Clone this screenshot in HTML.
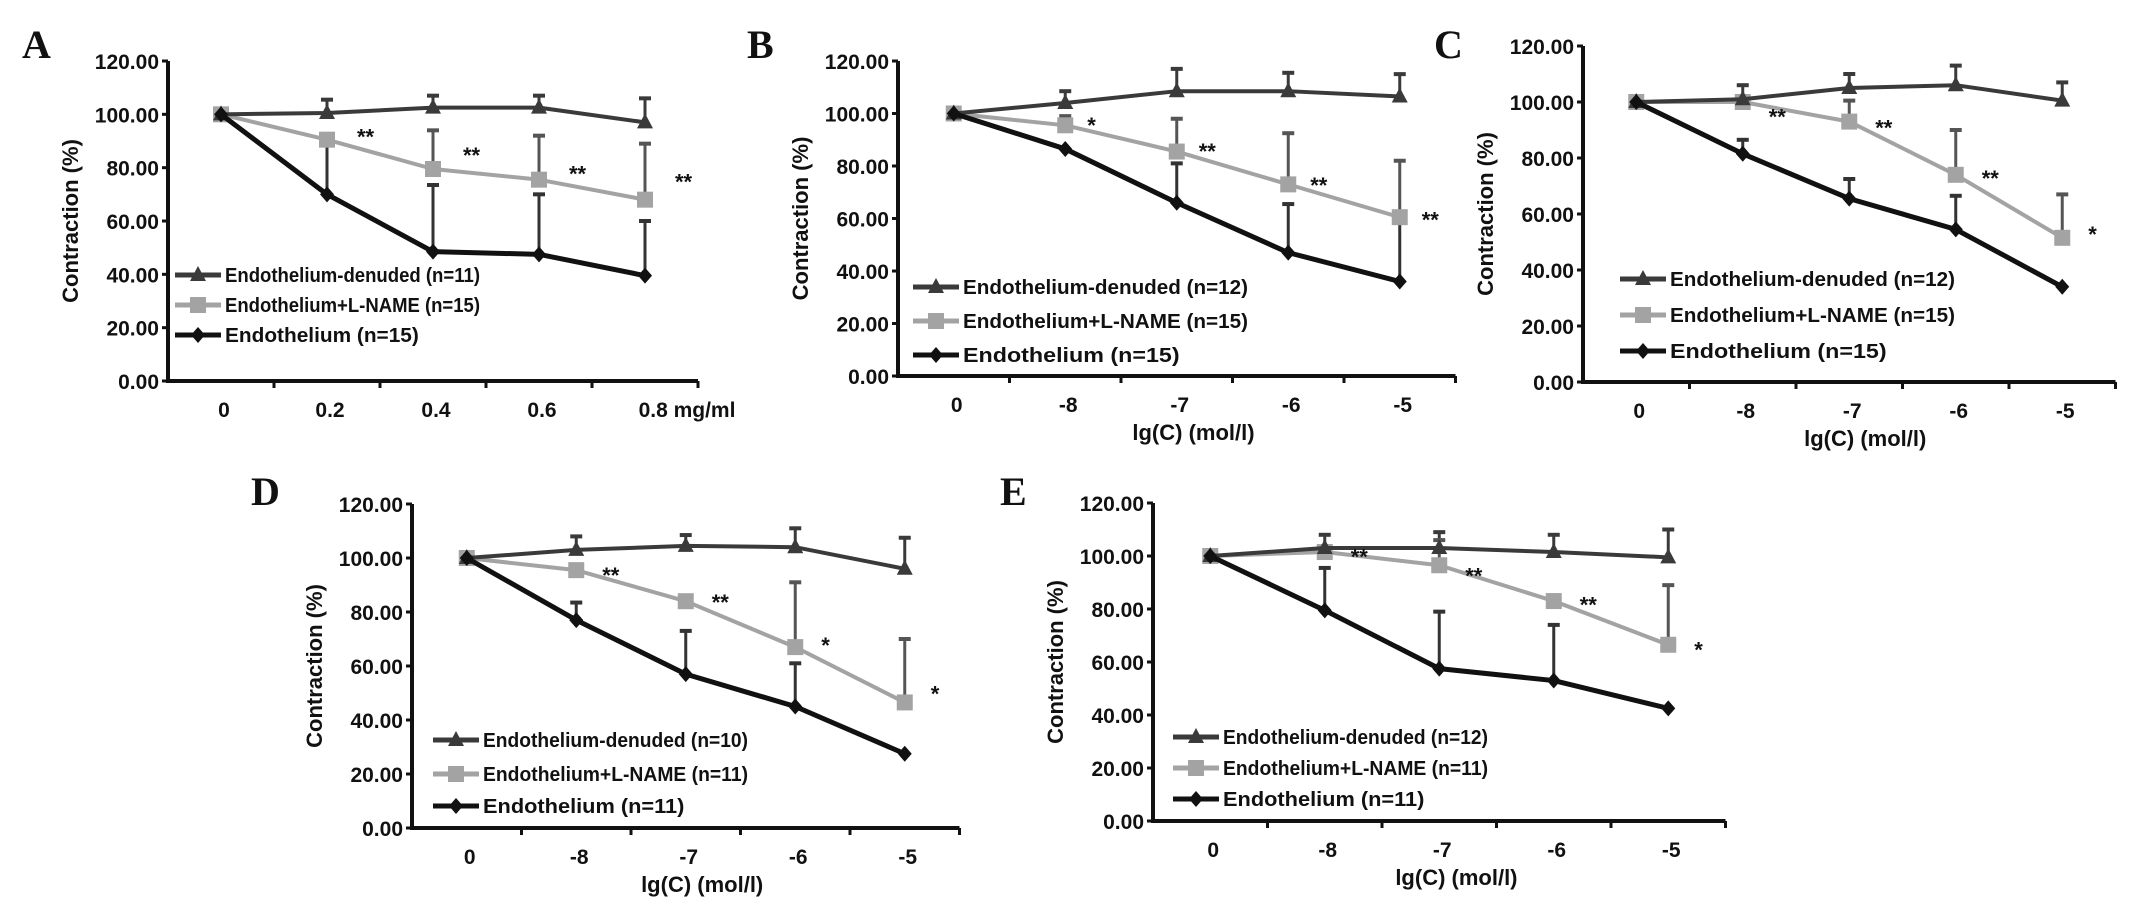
<!DOCTYPE html>
<html><head><meta charset="utf-8"><style>
html,body{margin:0;padding:0;background:#fff;}
svg{display:block;}
text{font-family:"Liberation Sans",Arial,sans-serif;font-weight:bold;fill:#111;}
.letter{font-family:"Liberation Serif","Times New Roman",serif;font-size:40px;}
</style></head><body>
<svg id="fig" width="2143" height="911" viewBox="0 0 2143 911" xmlns="http://www.w3.org/2000/svg"></svg>
<script>
// ---- data ----
const catsA = ["0","0.2","0.4","0.6","0.8 mg/ml"];
const catsLog = ["0","-8","-7","-6","-5"];
const yTicks = ["0.00","20.00","40.00","60.00","80.00","100.00","120.00"];

const denudedA = [100,100.5,102.5,102.5,97];
const denudedErrA = [0,105.5,107,107,106];
const lnameA = [100,90.5,79.5,75.5,68];
const lnameErrA = [0,0,94,92,89];
const endoA = [100,70,48.5,47.5,39.5];
const endoErrA = [0,90,73.5,70,60];

const denudedB = [100,104,108.5,108.5,106.5];
const denudedErrB = [0,108.5,117,115.5,115];
const lnameB = [100,95.5,85.5,73,60.5];
const lnameErrB = [0,99,98,92.5,82];
const endoB = [100,86.5,66,47,36];
const endoErrB = [0,0,81,65.5,60];

const denudedC = [100,101,105,106,100.5];
const denudedErrC = [0,106,110,113,107];
const lnameC = [100,100,93,74,51.5];
const lnameErrC = [0,0,100.5,90,67];
const endoC = [100,81.5,65.5,54.5,34];
const endoErrC = [0,86.5,72.5,66.5,0];

const denudedD = [100,103,104.5,104,96];
const denudedErrD = [0,108,108.5,111,107.5];
const lnameD = [100,95.5,84,67,46.5];
const lnameErrD = [0,0,0,91,70];
const endoD = [100,77,57,45,27.5];
const endoErrD = [0,83.5,73,61,0];

const denudedE = [100,103,103,101.5,99.5];
const denudedErrE = [0,108,109,108,110];
const lnameE = [100,101.5,96.5,83,66.5];
const lnameErrE = [0,0,106,0,89];
const endoE = [100,79.5,57.5,53,42.5];
const endoErrE = [0,95.5,79,74,0];

const starsA = [[1,"**",94],[2,"**",87],[3,"**",80],[4,"**",77]];
const starsB = [[1,"*",98],[2,"**",88],[3,"**",75],[4,"**",62]];
const starsC = [[1,"**",97],[2,"**",93],[3,"**",75],[4,"*",55]];
const starsD = [[1,"**",96],[2,"**",86],[3,"*",70],[4,"*",52]];
const starsE = [[1,"**",102],[2,"**",95],[3,"**",84],[4,"*",67]];

const nA = ["11","15","15"], nB = ["12","15","15"], nC = ["12","15","15"], nD = ["10","11","11"], nE = ["12","11","11"];

// ---- layout ----
const panels = [
 {id:"a",L:"A",lx:22,ly:58,ax:168,y0:381,y120:61,band:106,cats:catsA,xTitle:"",
  d:[denudedA,lnameA,endoA],e:[denudedErrA,lnameErrA,endoErrA],stars:starsA,sdx:30,n:nA,
  legX:175,legY:[275,305,335],legW:255},
 {id:"b",L:"B",lx:747,ly:58,ax:898,y0:376,y120:61,band:111.5,cats:catsLog,xTitle:"lg(C) (mol/l)",
  d:[denudedB,lnameB,endoB],e:[denudedErrB,lnameErrB,endoErrB],stars:starsB,sdx:22,n:nB,
  legX:913,legY:[287,321,355],legW:285},
 {id:"c",L:"C",lx:1434,ly:58,ax:1583,y0:382,y120:46,band:106.5,cats:catsLog,xTitle:"lg(C) (mol/l)",
  d:[denudedC,lnameC,endoC],e:[denudedErrC,lnameErrC,endoErrC],stars:starsC,sdx:26,n:nC,
  legX:1620,legY:[279,315,351],legW:285},
 {id:"d",L:"D",lx:251,ly:505,ax:412,y0:828,y120:504,band:109.5,cats:catsLog,xTitle:"lg(C) (mol/l)",
  d:[denudedD,lnameD,endoD],e:[denudedErrD,lnameErrD,endoErrD],stars:starsD,sdx:26,n:nD,
  legX:433,legY:[740,774,806],legW:265},
 {id:"e",L:"E",lx:1000,ly:505,ax:1153,y0:821,y120:503,band:114.5,cats:catsLog,xTitle:"lg(C) (mol/l)",
  d:[denudedE,lnameE,endoE],e:[denudedErrE,lnameErrE,endoErrE],stars:starsE,sdx:26,n:nE,
  legX:1173,legY:[737,768,799],legW:265}
];
const colors = ["#3a3a3a","#a3a3a3","#111111"];
const errColors = ["#3a3a3a","#555555","#333333"];
const names = ["Endothelium-denuded","Endothelium+L-NAME","Endothelium"];
const keys = ["denuded","lname","endothelium"];
const NS = "http://www.w3.org/2000/svg";
const svg = document.getElementById("fig");
function mk(tag, attrs, parent){
  const el = document.createElementNS(NS, tag);
  for (const k in attrs) el.setAttribute(k, attrs[k]);
  (parent||svg).appendChild(el);
  return el;
}
function marker(g, type, cx, cy, color){
  let el;
  if (type===0) el = mk("polygon",{points:`${cx},${cy-9} ${cx+8},${cy+6} ${cx-8},${cy+6}`,fill:color},g);
  else if (type===1) el = mk("rect",{x:cx-8,y:cy-8,width:16,height:16,fill:color},g);
  else el = mk("polygon",{points:`${cx},${cy-8} ${cx+7},${cy} ${cx},${cy+8} ${cx-7},${cy}`,fill:color},g);
  return el;
}
panels.forEach(p=>{
  const g = mk("g",{});
  
  
  const sy = v => p.y0 - (v/120)*(p.y0-p.y120);
  const sx = i => p.ax + p.band*(i+0.5);
  const xEnd = p.ax + p.band*5;
  const lt = mk("text",{x:p.lx,y:p.ly,class:"letter"},g); lt.textContent=p.L;
  
  
  const yaxis = mk("line",{x1:p.ax,y1:p.y120,x2:p.ax,y2:p.y0,stroke:"#111","stroke-width":4},g);
  
  
  const xaxis = mk("line",{x1:p.ax-2,y1:p.y0,x2:xEnd,y2:p.y0,stroke:"#111","stroke-width":4},g);
  
  
  yTicks.forEach((t,i)=>{
    const y = sy(i*20);
    mk("line",{x1:p.ax-6,y1:y,x2:p.ax,y2:y,stroke:"#111","stroke-width":3},g);
    const tx = mk("text",{x:p.ax-9,y:y+8,"font-size":21,"text-anchor":"end"},g); tx.textContent=t;
    
    
  });
  for (let k=1;k<=5;k++){
    mk("line",{x1:p.ax+p.band*k,y1:p.y0,x2:p.ax+p.band*k,y2:p.y0+7,stroke:"#111","stroke-width":3},g);
  }
  p.cats.forEach((c,i)=>{
    const anchorX = (p.id==="a" && i===4) ? sx(i)+42 : sx(i)+3;
    const tx = mk("text",{x:anchorX,y:p.y0+36,"font-size":21,"text-anchor":"middle"},g); tx.textContent=c;
    
    
  });
  if (p.xTitle){
    const tt = mk("text",{x:p.ax+p.band*2.65,y:p.y0+64,"font-size":22,"text-anchor":"middle"},g); tt.textContent=p.xTitle;
    
    
  }
  const yc = (p.y0+p.y120)/2;
  const yt = mk("text",{x:0,y:0,"font-size":22,"text-anchor":"middle",transform:`translate(${p.ax-90},${yc}) rotate(-90)`},g);
  yt.textContent="Contraction (%)";
  
  
  p.e.forEach((arr,s)=>{
    arr.forEach((top,i)=>{
      if (!top) return;
      const x = sx(i), y1 = sy(p.d[s][i]), y2 = sy(top);
      const eb = mk("g",{},g);
      
      
      mk("line",{x1:x,y1:y1,x2:x,y2:y2,stroke:errColors[s],"stroke-width":3},eb);
      mk("line",{x1:x-6,y1:y2,x2:x+6,y2:y2,stroke:errColors[s],"stroke-width":4},eb);
    });
  });
  [1,0,2].forEach(s=>{
    const pts = p.d[s].map((v,i)=>`${sx(i)},${sy(v)}`).join(" ");
    const pl = mk("polyline",{points:pts,fill:"none",stroke:colors[s],"stroke-width":s===2?5:4,"stroke-linejoin":"round"},g);
    
    
    p.d[s].forEach((v,i)=>{
      const m = marker(g,s,sx(i),sy(v),colors[s]);
      
      
    });
  });
  p.stars.forEach(([i,t,v])=>{
    const st = mk("text",{x:sx(i)+p.sdx,y:sy(v)+14,"font-size":22},g); st.textContent=t;
    
    
  });
  names.forEach((nm,s)=>{
    const y = p.legY[s];
    const lg = mk("g",{},g);
    
    
    mk("line",{x1:p.legX,y1:y,x2:p.legX+46,y2:y,stroke:colors[s],"stroke-width":5},lg);
    marker(lg,s,p.legX+23,y,colors[s]);
    const tx = mk("text",{x:p.legX+50,y:y+7,"font-size":20,textLength:(s===2?p.legW*0.76:p.legW),lengthAdjust:"spacingAndGlyphs"},lg);
    tx.textContent = `${nm} (n=${p.n[s]})`;
  });
});
</script>
</body></html>
